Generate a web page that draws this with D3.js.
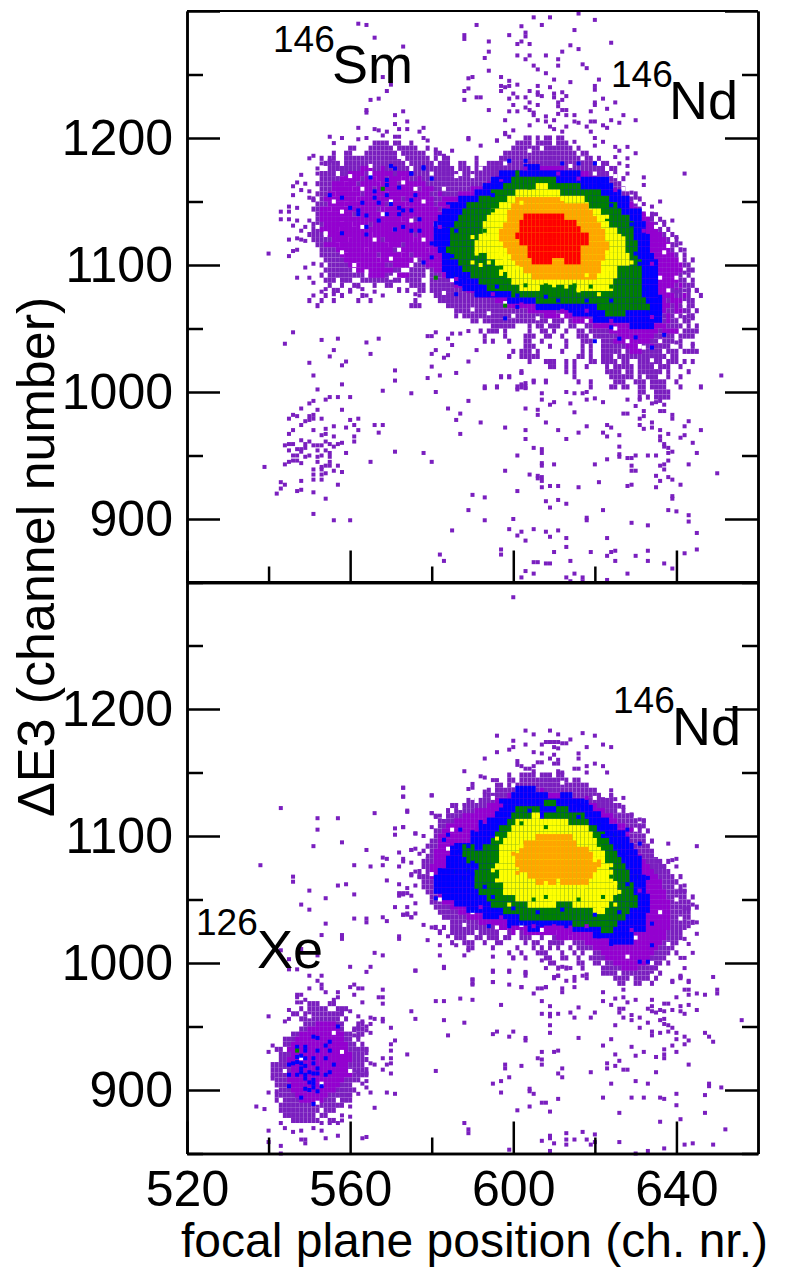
<!DOCTYPE html>
<html>
<head>
<meta charset="utf-8">
<script src="https://cdn.jsdelivr.net/npm/d3@7"></script>
<style>
  html, body { margin: 0; padding: 0; background: #fff; }
  svg { display: block; }
  text { font-family: "Liberation Sans", Arial, sans-serif; fill: #000; }
</style>
</head>
<body>
<div id="plot"></div>
<script>
// axis values
var xMajor = [520, 560, 600, 640];
var xMinor = [540, 580, 620];
var yMajor = [900, 1000, 1100, 1200, 1300];
var yMinor = [850, 950, 1050, 1150, 1250];
var yLabelled = [900, 1000, 1100, 1200];

// every row is [deltaE3, "channel spans"]
// upper panel, 146Sm + 146Nd
var topCount1 = [
  [1200, "603-604 606 608-609 611-612"],
  [1196, "566-569 571-572 575 601-604 606-609 611-613"],
  [1192, "560-561 565-570 572-576 579 600-606 608-614 616"],
  [1188, "556 559-560 564-571 573-578 581-582 598-615 617-618"],
  [1184, "553 555-556 559-572 574-579 581 583-584 591 597-619 621"],
  [1180, "554-557 559-573 575-580 582-584 587-588 591 594-620 622-623"],
  [1176, "555-574 576-585 587-589 591-622 624-625"],
  [1172, "553-556 558-564 566-586 588-623 625"],
  [1168, "553-557 559-565 567-572 574-625 627"],
  [1164, "552-558 560-566 568-626"],
  [1160, "553-560 562-627"],
  [1156, "552-555 557-568 570-628 630"],
  [1152, "551 553-561 563-629 631"],
  [1148, "552-558 560-573 575-630"],
  [1144, "551-554 556-567 569-631"],
  [1140, "552-561 563-632 634"],
  [1136, "552-557 559-572 574-634 636"],
  [1132, "551-560 562-635 637"],
  [1128, "551-556 558-569 571-636 638"],
  [1124, "550-553 555-564 566-637 639"],
  [1120, "551-559 561-575 577-638 640"],
  [1116, "552-556 558-568 570-640"],
  [1112, "553-563 565-578 580-639 641"],
  [1108, "553-558 560-572 574-640 642"],
  [1104, "554-566 568-575 577-640 642 644"],
  [1100, "553 555-561 563-574 576-640 642-643"],
  [1096, "554-560 562-572 575-641 643-644"],
  [1092, "553 555-563 565-570 573-578 580-641 643"],
  [1088, "554-556 558-560 563-572 574-577 580-642 644"],
  [1084, "555 558 561-562 566 569-570 575-578 580-640 642-644"],
  [1080, "556-557 560 572 574 577-578 580-641 643 645"],
  [1076, "554 558 563 581-641 643 646"],
  [1072, "550 553 556 562 565 576 582-640 642-644"],
  [1068, "552 575-577 584-641 643-644"],
  [1064, "586-640 642-643 645"],
  [1060, "586 588-610 612-641 643-644"],
  [1056, "590-591 593-608 610-612 614-620 622-640 642-643"],
  [1052, "595-600 604 606-607 609-611 614-615 618-641 643 645"],
  [1048, "592 594-596 598 604 607-608 610 613 616-617 619-640 642-645"],
  [1044, "593 598 603-605 608-609 612 616-618 620-639 641-644"],
  [1040, "593 595 599 603-604 607 613 617-619 622-639 641"],
  [1036, "603-605 609 613 617 619 622-630 632-638 641 644"],
  [1032, "600 602-604 606 612 617 619 622-626 628-636 638-640 642-645"],
  [1028, "599 602-606 616-617 619 622-624 626-637 639-640"],
  [1024, "604 608-610 613 615 619-620 622-625 627-628 631-636 638-640 642 644"],
  [1020, "609-610 613 615 618 623 625-629 631-634 636-638 641"],
  [1016, "602 613 615 623-626 628-629 631-636 638 643"],
  [1012, "597 599 615 624-629 631 633-635 638 641"],
  [1008, "605 608 616 619 625-627 630-632 634-637 640"],
  [1004, "593 596 601-603 619 624-625 627-628 631-632 634-637 641 646"],
  [1000, "631-632 635-638"],
  [996, "631 633 635-638"]
];
var topCount2 = [
  [1176, "563-565 568 571 605-612"],
  [1172, "560-563 566-570 572-575 600-618"],
  [1168, "558-562 564-568 570-574 577 596-620"],
  [1164, "556-561 563-571 573-578 594-622"],
  [1160, "556-565 567-576 578-580 590-623"],
  [1156, "555-562 564-579 582 587-625"],
  [1152, "554-572 574-580 583-628"],
  [1148, "555-568 570-580 582-629"],
  [1144, "553-566 568-581 583-630"],
  [1140, "553-560 562-582 584-632"],
  [1136, "553-575 577-633"],
  [1132, "554-564 566-580 582-634"],
  [1128, "553-570 572-635"],
  [1124, "555-575 577-636"],
  [1120, "556-567 569-637"],
  [1116, "554-572 574-638"],
  [1112, "557-570 573-638"],
  [1108, "558-566 568-574 576-639"],
  [1104, "559-575 578-640"],
  [1100, "560-568 571-575 579-641"],
  [1096, "562-570 581-641"],
  [1092, "565-568 572-574 583-640"],
  [1088, "585-640"],
  [1084, "586-639 641"],
  [1080, "589-638 640"],
  [1076, "592-639 642"],
  [1072, "596-637 639-641"],
  [1068, "599-638 640"],
  [1064, "604-610 612-637 640-641"],
  [1060, "608-618 620-636 638 640"],
  [1056, "615-636 638"],
  [1052, "620-637"],
  [1048, "624-635 637-640"],
  [1044, "626-634"],
  [1040, "625-633 636"],
  [1036, "628-630 634"],
  [1032, "629-631"]
];
var topCount3 = [
  [1177, "603-606"], [1172, "597-616"], [1167, "595-623"], [1162, "593-624"], [1157, "591-626"],
  [1152, "587-628"], [1147, "584-628"], [1142, "583-631"], [1137, "582-631"], [1132, "581-632"],
  [1127, "581-632"], [1122, "581-633"], [1117, "581-633"], [1112, "582-633"], [1107, "583-634"],
  [1102, "583-635"], [1097, "583-635"], [1092, "584-635"], [1087, "586-635"], [1082, "588-635"],
  [1077, "591-635"], [1072, "599-636"], [1067, "606-636"], [1062, "615-636"], [1057, "620-636"],
  [1052, "629-634"]
];
var topCount4 = [
  [1172, "601"], [1167, "600-610"], [1162, "598-616"], [1157, "595-621"], [1152, "592-623"],
  [1147, "589-625"], [1142, "588-626"], [1137, "587-628"], [1132, "586-629"], [1127, "585-629"],
  [1122, "585-629"], [1117, "585-630"], [1112, "584-630"], [1107, "585-630"], [1102, "587-631"],
  [1097, "588-631"], [1092, "590-631"], [1087, "592-631"], [1082, "594-631"], [1077, "600-631"],
  [1072, "606-632"], [1067, "621-633"], [1062, "623-627"]
];
var topCount5 = [
  [1162, "606-608"], [1157, "601-611"], [1152, "599-617"], [1147, "597-618"], [1142, "595-621"],
  [1137, "594-622"], [1132, "593-623"], [1127, "593-625"], [1122, "592-626"], [1117, "591-627"],
  [1112, "591-627"], [1107, "594-628"], [1102, "596-628"], [1097, "597-625"], [1092, "599-625"],
  [1087, "600-624"], [1082, "602-606 616-624"]
];
var topCount6 = [
  [1151, "601-612"], [1146, "600-618"], [1141, "599-619"], [1136, "599-620"], [1131, "598-621"],
  [1126, "597-622"], [1121, "597-622"], [1116, "598-623"], [1111, "599-623"], [1106, "600-622"],
  [1101, "601-621"], [1096, "603-621"], [1091, "605-620"]
];
var topCount7 = [
  [1138, "603-612"], [1133, "602-615"], [1128, "602-616"], [1123, "601-618"], [1118, "602-618"],
  [1113, "604-616"], [1108, "604-616"], [1103, "605-609 613-616"]
];

// lower panel, 146Nd + 126Xe
var lowCount1 = [
  [1148, "599 602-605 607-609 611-612"],
  [1144, "599-600 602-613 615-616"],
  [1140, "596-597 599-618"],
  [1136, "594 596-620"],
  [1132, "593-621 624"],
  [1128, "589-590 592-624"],
  [1124, "585-586 588-626"],
  [1120, "584 586-627"],
  [1116, "584-629"],
  [1112, "582-630 632"],
  [1108, "582-632"],
  [1104, "581-631 633"],
  [1100, "581-632"],
  [1096, "580-632 634"],
  [1092, "579-633"],
  [1088, "578 580-634"],
  [1084, "579-635"],
  [1080, "578-636 638"],
  [1076, "578-637"],
  [1072, "577 579-638"],
  [1068, "577-639 641"],
  [1064, "578-640"],
  [1060, "578-641"],
  [1056, "579-642"],
  [1052, "580-642 644"],
  [1048, "580-643"],
  [1044, "581-643 645"],
  [1040, "582-643"],
  [1036, "583-643"],
  [1032, "585-642 644"],
  [1028, "581 583 585-598 600-642"],
  [1024, "582 585-590 592-596 599-600 602-610 612-641"],
  [1020, "586-588 591-592 594-596 598-599 602-604 607 610-613 615-641"],
  [1016, "585 588-590 593 596-597 603 605-606 609-612 615-640"],
  [1012, "589-590 595 601 605 607 609 611 614 616-639"],
  [1008, "599 602 606-608 612 615 617 620-638 640"],
  [1004, "600 603 608-609 612-613 616 619-637"],
  [1000, "609-610 616-617 620-621 623-636 638"],
  [996, "611 613 617 622-635"],
  [992, "622-625 627-634 636"],
  [988, "625-628 630-633 635"],
  [984, "626-627 630-631 634"],
  [968, "550-552 555-556"],
  [964, "548 550-554 557-559"],
  [960, "546-547 549-558"],
  [956, "548-557 559"],
  [952, "549-558 562-563"],
  [948, "548-558 561-563"],
  [944, "546-560 562-563"],
  [940, "544-560 562"],
  [936, "544-561 563"],
  [932, "542-543 545-564"],
  [928, "543-563"],
  [924, "543-564"],
  [920, "541-563"],
  [916, "541-564"],
  [912, "541-564"],
  [908, "542-562"],
  [904, "542-560"],
  [900, "543-561"],
  [896, "542-560"],
  [892, "542 544-556 558-560"],
  [888, "543-558"],
  [884, "543-552 554-556"],
  [880, "544-551 553-554"],
  [876, "546-552 555-556"]
];
var lowCount2 = [
  [1136, "602-604 607"], [1132, "599-606 608-613"], [1128, "596-616"], [1124, "594-620"], [1120, "591-622"],
  [1116, "588-624"], [1112, "586-625"], [1108, "584-627"], [1104, "583-628"], [1100, "582-628"],
  [1096, "582-628"], [1092, "582-629"], [1088, "581-630"], [1084, "581-631"], [1080, "581-632"],
  [1076, "580-633"], [1072, "580-634"], [1068, "580-635"], [1064, "581-636"], [1060, "581-636"],
  [1056, "582-637"], [1052, "582-637"], [1048, "583-638"], [1044, "585-638"], [1040, "587-638"],
  [1036, "589-638"], [1032, "592-638"], [1028, "596-638"], [1024, "600 603-637"], [1020, "611-637"],
  [1016, "618-636"], [1012, "620-635"], [1008, "622-634"], [1004, "623-633"], [1000, "625-632"],
  [996, "627-630"],
  [952, "552-556"], [948, "550-557"], [944, "548-558"], [940, "547-558"], [936, "546-559"],
  [932, "545-559"], [928, "546-560"], [924, "545-560"], [920, "545-559"], [916, "546-559"],
  [912, "545-560"], [908, "545-558"], [904, "546-557"], [900, "546-556"], [896, "547-554"], [892, "548-553"]
];
var lowCount3 = [
  [1137, "601-605"], [1132, "600-608 612-614"], [1127, "597-618"], [1122, "597-619"], [1117, "596-621"],
  [1112, "594-623"], [1107, "592-625"], [1102, "590-627"], [1097, "590-628"], [1092, "585-629"],
  [1087, "585-630"], [1082, "584-631"], [1077, "584-631"], [1072, "582-631"], [1067, "581-632"],
  [1062, "581-632"], [1057, "581-632"], [1052, "583-633"], [1047, "586-633"], [1042, "589-633"],
  [1037, "593-632"], [1032, "599-632"], [1027, "604-606 615-632"], [1022, "620-629"], [1017, "624-629"]
];
var lowCount4 = [
  [1126, "608-610"], [1121, "601-606 611-613"], [1116, "600-606 608-617"], [1111, "599-618"], [1106, "597-620"],
  [1101, "596-622"], [1096, "595-623"], [1091, "588-590 593-624"], [1086, "588-625"], [1081, "589-626"],
  [1076, "592-627"], [1071, "591-628"], [1066, "591-628"], [1061, "591-629"], [1056, "592-629"],
  [1051, "594-630"], [1046, "595-630"], [1041, "598-628"], [1036, "602-627"], [1031, "615-625"],
  [1026, "622-624"]
];
var lowCount5 = [
  [1116, "605-606"], [1111, "601-613"], [1106, "600-618"], [1101, "599-619"], [1096, "598-620"],
  [1091, "597-621"], [1086, "597-622"], [1081, "597-622"], [1076, "596-623"], [1071, "597-624"],
  [1066, "597-624"], [1061, "598-625"], [1056, "598-625"], [1051, "601-624"], [1046, "604-610 615-623"],
  [1041, "620-622"]
];
var lowCount6 = [
  [1099, "606-614"], [1094, "603-615"], [1089, "602-618"], [1084, "601-619"], [1079, "601-621"],
  [1074, "602-620"], [1069, "604-619"], [1064, "606-610 612-618"]
];

// empty channels inside the purple area
var topEmpty = [[556,1150],[560,1170],[563,1130],[566,1120],[570,1105],[573,1165],[575,1135],[578,1120],[552,1130],[558,1110],[564,1095],[570,1090],[585,1088],[590,1065],[600,1060],[612,1060],[628,1040],[634,1025],[640,1060],[636,1090],[638,1115],[590,1170],[598,1180],[614,1178],[620,1172],[578,1150],[581,1132],[565,1178],[572,1185],[568,1140],[561,1100],[575,1100],[598,1070],[625,1050],[632,1035],[639,1120],[637,1110],[640,1090],[638,1080],[642,1070],[636,1040],[635,1130],[633,1142],[630,1150],[627,1160],[625,1170],[617,1184],[604,1190],[592,1176],[586,1170],[583,1160],[580,1172],[576,1160],[570,1150],[563,1160],[558,1142],[554,1125],[572,1112],[579,1095],[583,1078],[594,1062],[606,1058],[618,1056]];
var lowEmpty = [[580,1070],[585,1105],[590,1040],[595,1130],[602,1030],[610,1032],[640,1060],[636,1040],[638,1090],[630,1020],[634,1000],[578,1085],[582,1050],[548,925],[553,905],[556,945],[544,915],[558,930],[550,958],[552,890],[560,915],[584,1090],[583,1115],[587,1122],[590,1130],[600,1140],[612,1142],[620,1130],[626,1120],[630,1105],[635,1085],[640,1050],[641,1035],[638,1015],[634,990],[628,1005],[588,1030],[596,1028],[607,1026]];

// single blue and green cells outside the main rings
var topBlueCells = [[570,1178],[578,1176],[555,1155],[558,1153],[560,1145],[562,1143],[563,1149],[565,1169],[566,1158],[566,1153],[567,1149],[569,1167],[569,1163],[569,1155],[570,1148],[571,1176],[572,1161],[572,1145],[575,1172],[575,1151],[576,1155],[564,1139],[564,1130],[567,1135],[569,1140],[572,1140],[571,1128],[573,1130],[558,1125],[562,1140],[564,1124],[612,1180],[620,1040],[626,1042],[637,1045],
  [578,1177],[575,1172],[580,1168],[575,1143],[577,1136],[577,1127],[580,1117],[575,1127],[573,1143],[578,1102],[580,1106],[599,1182],[603,1182],[616,1180],[620,1180],[636,1075],[598,1058],[614,1064],[620,1059],[624,1051],[630,1043],[634,1035],[606,1067],[601,1067],[591,1077],[587,1085],[586,1077]];
var topGreenCells = [[568,1160],[584,1129],[583,1117],[584,1106],[581,1090],[586,1093],[598,1068],[600,1077],[604,1076],[606,1172],[617,1161],[622,1149],[626,1144],[629,1129],[631,1093],[632,1081],[633,1063],[623,1058],[616,1068],[607,1071]];
var lowBlueCells = [[557,950],[551,942],[552,941],[555,938],[547,934],[549,934],[554,935],[549,931],[552,931],[555,931],[548,927],[547,926],[549,925],[551,925],[554,925],[546,921],[547,922],[548,921],[545,920],[551,921],[556,920],[549,919],[552,917],[548,917],[550,914],[545,912],[547,912],[548,914],[549,912],[551,913],[552,913],[554,912],[555,914],[549,909],[551,908],[550,906],[551,905],[545,903],[549,901],[550,900],[551,902],[553,903],[552,899],[548,894],[551,889],[634,1014],[631,1001],[633,1001],
  [582,1073],[581,1051],[584,1101],[587,1105],[583,1097],[592,1111],[594,1029],[599,1029],[602,1034],[607,1030],[613,1029],[615,1127],[616,1124],[622,1107],[624,1107],[628,1105],[631,1094],[633,1067],[634,1031],[624,1015],[627,1023],[621,1021]];
var lowGreenCells = [[547,931],[586,1072],[588,1067],[589,1073],[590,1077],[592,1054],[591,1060],[594,1050],[599,1046],[598,1042],[602,1034],[605,1033],[610,1124],[621,1109],[625,1101],[626,1092],[630,1068],[629,1047],[624,1033],[622,1029]];

// notches and stray cells along the ring edges
var topEdgePurple = [[603,1176],[611,1172],[616,1168],[597,1166],[584,1146],[582,1130],[582,1107],[586,1089],[595,1077],[602,1069],[612,1064],[618,1064],[624,1056],[634,1059],[634,1101],[632,1127],[629,1147],[625,1159]];
var topEdgeBlue = [[595,1155],[597,1164],[586,1127],[585,1107],[588,1090],[592,1083],[596,1083],[601,1076],[608,1075],[611,1072],[618,1072],[624,1072],[621,1163],[624,1147],[629,1132],[630,1109],[631,1101]];
var topEdgeGreen = [[595,1143],[593,1127],[597,1098],[599,1088],[603,1084],[608,1084],[612,1080],[615,1084],[619,1083],[624,1083],[627,1096],[622,1143],[618,1156],[612,1161],[604,1161]];
var topEdgeYellow = [[590,1122],[593,1121],[591,1109],[590,1102],[592,1100],[594,1102],[597,1093],[623,1138],[627,1121],[629,1102],[616,1080],[621,1077],[606,1082],[610,1084],[613,1083],[598,1105],[597,1109],[601,1098],[612,1152],[602,1149],[623,1110],[624,1097],[618,1092]];
var lowEdgePurple = [[585,1094],[592,1044],[597,1036],[605,1029],[610,1029],[618,1029],[629,1026],[631,1057],[629,1105],[618,1130],[597,1124],[591,1105]];
var lowEdgeBlue = [[589,1092],[590,1079],[587,1088],[590,1070],[593,1060],[595,1052],[600,1043],[606,1040],[612,1042],[620,1038],[626,1040],[628,1062],[627,1085],[622,1100],[616,1115],[604,1120]];
var lowEdgeGreen = [[599,1105],[602,1110],[608,1107],[620,1100],[621,1093],[624,1068],[605,1050],[608,1052],[616,1050],[622,1052]];
var lowEdgeYellow = [[596,1098],[595,1073],[596,1065],[598,1056],[599,1046],[624,1077],[625,1063],[626,1056],[625,1046],[621,1043],[610,1047],[606,1116],[608,1063],[617,1060],[620,1081],[602,1092]];
var lowEdgeOrange = [[600,1086],[601,1077],[601,1071],[619,1086],[621,1077],[606,1100]];

// isolated counts
var topSingles = [[546,1047],[544,1038],[553,1041],[557,1042],[556,1033],[555,1028],[550,1023],[559,1024],[558,1021],[551,1013],[558,1006],[552,1002],[554,994],[555,996],[557,996],[560,996],[551,993],[550,991],[548,987],[552,986],[558,986],[546,982],[547,981],[551,982],[550,981],[545,979],[553,979],[551,979],[550,978],[549,977],[560,978],[562,979],[561,974],[548,974],[554,971],[556,973],[559,972],[546,970],[545,967],[551,970],[554,967],[553,966],[556,965],[562,970],[561,965],[561,961],[566,974],[568,974],[567,968],[548,962],[550,961],[554,961],[545,959],[546,959],[544,958],[549,959],[551,958],[552,958],[553,958],[555,959],[556,957],[557,959],[558,960],[547,955],[548,955],[549,956],[545,954],[548,953],[552,954],[554,954],[555,952],[559,952],[546,950],[547,950],[549,949],[550,950],[552,949],[553,950],[555,949],[545,945],[546,946],[547,946],[552,945],[555,945],[544,943],[548,944],[539,941],[551,939],[553,941],[554,942],[555,942],[557,942],[556,938],[553,939],[551,935],[553,935],[554,936],[558,937],[551,931],[553,931],[548,930],[543,929],[544,927],[557,927],[543,924],[542,920],[547,922],[548,923],[551,921],[554,916],[551,904],[556,899],[560,899],
  [565,1030],[564,1039],[567,1042],[571,1017],[571,1009],[568,1001],[575,999],[565,945],[571,953],[578,952],[580,945],[581,1000],[579,1011],[580,1020],[582,1013],[586,1015],[589,1024],[584,1029],[583,1027],[581,1033],[580,1030],[585,1037],[591,1033],[579,1044],[580,1044],[581,1047],[584,1042],[585,1046],[587,1046],[589,1048],[589,993],[584,987],[587,983],[586,978],[587,967],[590,919],[589,907],[585,891],[582,872],[583,867],
  [599,1028],[597,1012],[599,1012],[602,1015],[602,1006],[603,1007],[603,1003],[601,1002],[596,1004],[593,1003],[605,1009],[608,1009],[607,999],[607,994],[610,992],[609,990],[613,1000],[615,999],[617,999],[618,1000],[618,994],[620,995],[614,991],[622,992],[615,984],[606,986],[606,982],[603,987],[628,994],[631,994],[630,989],[634,991],[635,992],[636,993],[637,990],[636,985],[637,985],[632,985],[627,983],[628,983],[632,981],[631,979],[634,976],[634,972],[639,982],[639,979],[643,977],[642,973],[646,970],[592,976],[598,972],[603,970],[608,976],[611,970],[616,968],[618,973],[623,974],[624,972],[631,974],[632,971],[622,968],[623,965],[626,966],[636,970],[638,967],[641,964],[642,966],[636,965],[636,962],[603,963],[613,963],[644,960],[637,959],[637,957],[638,956],[626,957],[605,956],[607,955],[607,952],[601,950],[639,953],[645,952],[626,951],[626,949],[628,948],[629,948],[630,950],[633,950],[635,950],[638,952],[623,947],[638,946],[607,944],[607,942],[610,943],[620,943],[637,943],[636,942],[643,943],[629,942],[598,938],[629,938],[630,938],[637,939],[650,936],[604,935],[606,934],[606,932],[607,933],[607,930],[635,934],[638,933],[639,931],[636,930],[621,929],[629,927],[628,926],[641,927],[607,925],[609,926],[611,926],[616,925],[635,925],[601,922],[593,917],[639,918],[639,916],[608,914],[611,915],[613,912],[609,909],[622,907],[638,907],[640,906],[643,903],[618,901],[618,899],[600,900],[593,899],[629,897],[633,895],[643,898],[599,892],[602,890],[605,892],[608,890],[611,891],[601,887],[609,886],[645,889],[603,883],[613,885],[623,885],[613,878],[597,876],[597,872],[610,874],[619,874],[624,874],[625,875],[623,871],[633,875],[630,871],[642,873],[645,876],[605,866],[606,866],[608,865],[609,865],[614,867],[625,867],[633,867],[637,865],[639,861],[603,859],[602,854],[605,857],[613,854],[615,857],[614,851],[617,854],[617,851],[623,852],[628,857],[651,1013],
  [562,1290],[564,1289],[566,1279],[573,1272],[568,1248],[570,1242],[569,1237],[567,1231],[565,1230],[564,1222],[564,1220],[573,1221],[571,1218],[574,1213],[571,1211],[572,1207],[574,1207],[562,1208],[566,1207],[567,1206],[569,1205],[578,1208],[577,1205],[555,1201],[558,1200],[562,1199],[556,1196],[564,1200],[571,1201],[572,1201],[568,1202],[578,1200],[579,1198],[581,1191],[583,1186],[585,1190],[551,1186],[550,1184],[553,1180],[555,1182],[552,1176],[552,1172],[548,1171],[547,1165],[549,1164],[546,1162],[548,1159],[550,1158],[550,1153],[546,1155],[551,1151],[545,1146],[547,1145],[545,1142],[543,1142],[543,1136],[545,1136],[547,1135],[546,1131],[548,1127],[549,1130],[550,1135],[545,1120],[547,1121],[548,1120],[549,1119],[546,1111],[547,1112],[540,1109],[545,1107],[549,1098],[551,1101],[547,1090],[550,1090],[551,1086],[554,1081],[553,1079],[556,1077],[551,1076],[560,1079],[562,1083],[563,1081],[566,1079],[564,1076],[568,1076],[572,1081],[576,1077],[577,1076],
  [591,1289],[588,1281],[588,1278],[589,1247],[590,1248],[588,1237],[589,1239],[588,1230],[591,1232],[589,1200],
  [605,1295],[609,1295],[616,1298],[620,1293],[602,1288],[607,1289],[615,1285],[599,1281],[603,1283],[603,1280],[594,1276],[601,1274],[602,1276],[604,1274],[614,1273],[624,1275],[616,1270],[594,1268],[593,1263],[601,1265],[604,1265],[603,1262],[608,1265],[612,1268],[611,1262],[611,1257],[605,1257],[606,1254],[617,1258],[618,1255],[594,1253],[597,1248],[608,1251],[610,1246],[614,1244],[621,1246],[599,1245],[597,1241],[599,1241],[598,1240],[601,1242],[597,1237],[606,1241],[609,1240],[620,1241],[620,1238],[604,1237],[606,1236],[606,1234],[607,1233],[612,1236],[610,1235],[610,1232],[613,1233],[600,1235],[601,1232],[599,1231],[603,1232],[592,1232],[612,1230],[611,1228],[611,1225],[604,1228],[600,1226],[606,1226],[622,1231],[625,1228],[620,1228],[620,1226],[623,1223],[619,1221],[627,1218],[594,1222],[599,1221],[601,1221],[603,1224],[604,1222],[605,1220],[605,1218],[611,1219],[612,1222],[613,1222],[613,1218],[615,1218],[608,1217],[598,1214],[606,1214],[610,1214],[608,1213],[615,1213],[616,1212],[619,1213],[620,1213],[624,1214],[626,1212],[630,1214],[622,1210],[623,1208],[618,1209],[619,1205],[613,1209],[604,1210],[609,1209],[610,1207],[600,1206],[598,1204],[599,1201],[620,1200],[612,1205],[615,1197],[596,1198],
  [589,1199],[592,1194],[596,1198],[598,1203],[622,1197],[620,1194],[625,1193],[628,1193],[626,1190],[630,1188],[628,1184],[625,1185],[628,1178],[626,1180],[628,1172],[632,1169],[632,1163],[642,1172],[630,1153],[629,1157],[636,1150],[634,1146],[632,1148],[635,1140],[637,1134],[639,1135],[634,1137],[641,1117],[642,1112],[640,1122],[643,1096],[642,1094],[643,1080],[645,1080],[642,1080],[640,1079],[644,1058],[644,1038],[642,1059],[640,1039]];
var lowSingles = [[600,1288],[596,1179],[603,1183],[605,1180],[609,1183],[617,1181],[620,1179],[611,1180],[611,1174],[610,1174],[612,1173],[613,1173],[614,1176],[609,1174],[600,1175],[600,1170],[603,1172],[607,1172],[608,1174],[610,1170],[611,1169],[618,1170],[622,1172],[624,1170],[596,1166],[599,1168],[605,1166],[607,1165],[616,1165],[616,1161],[610,1164],[609,1161],[611,1160],[593,1161],[601,1159],[601,1156],[606,1158],[605,1155],[610,1157],[611,1157],[607,1158],[602,1155],[603,1153],[604,1153],[605,1151],[615,1153],[616,1153],[618,1155],[620,1157],[622,1155],[623,1150],[618,1150],[611,1151],[612,1150],[588,1151],[592,1147],[593,1146],[595,1144],[596,1144],[590,1141],[590,1138],[593,1135],[589,1137],[624,1136],[624,1132],[621,1131],[622,1129],[625,1129],[627,1130],[580,1132],[573,1138],[573,1131],[574,1120],[580,1118],[581,1116],[582,1116],[573,1107],[576,1102],[578,1100],[575,1089],[576,1090],[577,1086],[573,1082],[575,1079],[576,1072],[575,1069],[577,1068],[576,1061],[573,1055],[574,1055],[575,1053],[572,1055],[576,1047],[573,1038],[574,1038],[575,1036],[576,1039],[578,1030],[580,1028],[582,1025],[572,1021],[579,1018],[582,1014],[584,1021],[586,1014],[589,1010],[582,1006],[588,1006],[595,1005],[600,1004],[576,994],[583,997],[590,987],[590,984],[595,994],[599,994],[595,985],[602,981],[603,993],[608,996],[607,1002],[610,988],[612,997],[614,996],[615,989],[611,990],[606,980],[608,981],
  [631,1113],[632,1112],[629,1117],[627,1123],[631,1107],[638,1094],[645,1092],[640,1082],[639,1081],[640,1076],[637,1076],[636,1080],[642,1061],[641,1057],[642,1057],[644,1046],[643,1043],[642,1043],[645,1032],[643,1032],[643,1029],[645,1023],[642,1019],[643,1015],[644,1008],[642,1004],[641,1004],[642,996],[639,985],[641,989],[643,985],
  [545,995],[547,995],[550,990],[553,990],[552,986],[553,983],[553,980],[550,980],[554,977],[557,977],[547,975],[548,975],[557,973],[547,973],[549,971],[547,969],[548,969],[556,971],[556,968],[545,963],[560,997],[565,997],[564,993],[560,981],[561,983],[562,980],[563,980],[561,975],[563,969],[568,979],[567,973],[568,973],[568,968],[575,962],[576,956],[576,994],[583,996],[590,987],[590,983],[581,970],[583,970],[587,972],[590,971],[583,955],[588,953],[584,943],[581,915],[574,928],[560,962],[558,962],[562,958],[563,954],[565,957],[566,956],[568,956],[568,954],[565,952],[564,950],[564,947],[562,949],[561,947],[561,943],[570,949],[565,945],[571,939],[570,936],[562,942],[562,932],[564,932],[564,929],[570,931],[568,925],[570,925],[570,921],[569,920],[565,921],[566,920],[568,916],[570,913],[562,914],[563,912],[564,913],[564,907],[563,905],[564,902],[565,898],[569,898],[571,897],[562,897],[560,896],[566,886],[560,887],[560,879],[558,880],[558,876],[557,874],[555,874],[553,874],[553,868],[551,870],[548,868],[546,867],[544,870],[543,874],[540,868],[557,864],[554,862],[548,861],[549,861],[549,858],[540,859],[543,856],[543,850],[563,862],[564,863],[537,887],[539,885],[542,899],[540,898],[541,909],[540,930],[540,958],[541,935],[544,954],[545,956],[588,874],[589,869],[589,866],
  [595,993],[599,993],[603,992],[603,990],[595,985],[599,983],[602,981],[605,976],[607,980],[608,981],[610,989],[611,990],[613,986],[615,986],[617,990],[618,991],[618,988],[612,980],[612,977],[615,981],[607,970],[609,966],[597,967],[616,965],[607,960],[609,960],[609,958],[611,960],[614,961],[615,957],[620,961],[619,957],[609,951],[609,945],[595,944],[596,946],[600,946],[599,942],[603,941],[603,939],[616,941],[607,930],[610,930],[611,931],[606,925],[607,924],[607,920],[598,920],[598,917],[602,919],[612,917],[611,913],[612,910],[599,910],[597,907],[595,905],[597,898],[604,901],[604,899],[605,897],[611,893],[607,890],[608,890],[601,884],[604,887],[609,883],[607,860],[609,864],[609,862],[610,858],[613,866],[613,861],[613,857],[615,861],[617,867],[618,861],[620,865],[619,857],[620,859],[609,852],[599,853],
  [622,977],[622,970],[625,972],[624,967],[627,979],[627,973],[628,969],[630,971],[626,964],[627,964],[626,961],[627,957],[629,959],[629,955],[631,957],[633,953],[634,971],[634,966],[633,964],[634,962],[635,961],[636,963],[636,955],[637,956],[637,952],[638,951],[639,949],[638,946],[636,945],[634,946],[634,943],[631,949],[625,951],[640,945],[640,940],[642,942],[643,939],[642,936],[639,935],[640,930],[637,932],[637,928],[637,925],[635,926],[632,930],[629,934],[630,927],[622,935],[624,940],[625,928],[626,923],[623,921],[623,917],[625,919],[627,916],[628,916],[619,914],[635,914],[643,920],[647,945],[648,942],[649,938],[656,955],[637,962],[641,962],[642,960],[639,963],[643,967],[645,963],[641,966],[637,968],[638,968],[640,973],[643,975],[645,976],[647,975],[650,979],[650,976],[643,979],[642,979],[649,989],[643,986],[639,986],[641,990],[641,988],
  [624,905],[630,907],[633,905],[648,905],[648,903],[651,902],[622,894],[629,894],[632,894],[636,894],[637,893],[640,897],[647,896],[640,888],[626,882],[647,882],[641,877],[636,875],[652,869],[626,859],[642,857],[644,858],[649,857],[637,854],[633,852],[630,850],
  [543,1122],[552,1114],[557,1114],[552,1105],[551,1092],[558,1095],[538,1077],[546,1068],[546,1064],[550,1057],[554,1051],[548,1046],[550,1042],[561,1077],[565,1076],[564,1089],[557,1061],[559,1062],[561,1054],[561,1035],[564,1035],[564,1032],[554,1031],[553,1022],[558,1022],[558,1019],[543,1010],[548,1011],[545,1003],[552,1006],[566,1008],[568,1006],[572,1019],[569,1033],[568,1036],[571,1044],[573,1038],[574,1039],[575,1036],[574,1044],[573,1054],[572,1053],[572,1062],[569,1065],[574,1059],[575,1070],[572,1076],[573,1080],[568,1077],[568,1083],[569,1082],[572,1087],[575,1089],[571,1101],[571,1106],[573,1107],[576,1102],[573,1138],[573,1131],[574,1119],[580,1132],[580,1118],[581,1115],[566,1118],[580,1107]];

var colors = { count1: "#7a1fbf", count2: "#9400d0", count3: "#0000ff", count4: "#008000", count5: "#ffff00", count6: "#ffa500", count7: "#ff0000" };

var width = 786, height = 1269;
var left = 187, right = 758;
var panelHeight = 571.5;
var topY0 = 11, lowY0 = 582;

var x = d3.scaleLinear().domain([520, 660]).range([left, right]);
var yTop = d3.scaleLinear().domain([850, 1300]).range([topY0 + panelHeight, topY0]);
var yLow = d3.scaleLinear().domain([850, 1300]).range([lowY0 + panelHeight, lowY0]);

var svg = d3.select("#plot").append("svg")
    .attr("width", width)
    .attr("height", height);

// "566-569 575" -> [566,567,568,569,575]
function channels(s) {
  return s.split(" ").flatMap(function(part) {
    var ends = part.split("-").map(Number);
    return d3.range(ends[0], (ends.length > 1 ? ends[1] : ends[0]) + 1);
  });
}

function drawRows(g, rows, y, color, step) {
  var cells = rows.flatMap(function(r) {
    return channels(r[1]).map(function(c) { return [c, r[0]]; });
  });
  var h = y(0) - y(step);
  g.append("g").selectAll("rect")
    .data(cells)
    .join("rect")
      .attr("x", d => x(d[0]) - 2)
      .attr("y", d => y(d[1]) - h / 2)
      .attr("width", 4)
      .attr("height", h)
      .attr("fill", color);
}

function drawPoints(g, pts, y, color) {
  g.append("g").selectAll("rect")
    .data(pts)
    .join("rect")
      .attr("x", d => x(d[0]) - 2)
      .attr("y", d => y(d[1]) - 2)
      .attr("width", 4)
      .attr("height", 4)
      .attr("fill", color);
}

function drawPanel(y, d) {
  var g = svg.append("g");
  drawRows(g, d.rows[0], y, colors.count1, 4);
  drawRows(g, d.rows[1], y, colors.count2, 4);
  drawPoints(g, d.empty, y, "#fff");
  drawPoints(g, d.singles, y, colors.count1);
  drawPoints(g, d.blue, y, colors.count3);
  drawPoints(g, d.green, y, colors.count4);
  d.rows.slice(2).forEach(function(rows, i) {
    drawRows(g, rows, y, colors["count" + (i + 3)], 5);
  });
  // ragged edges go on last
  drawPoints(g, d.edges[0], y, colors.count2);
  drawPoints(g, d.edges[1], y, colors.count3);
  drawPoints(g, d.edges[2], y, colors.count4);
  drawPoints(g, d.edges[3], y, colors.count5);
  drawPoints(g, d.edges[4], y, colors.count6);
}

function drawAxes(y, y0, showX) {
  var g = svg.append("g");
  var fmt = d => yLabelled.includes(d) ? d : "";

  g.append("g").attr("class", "axis")
      .attr("transform", `translate(${left},0)`)
      .call(d3.axisLeft(y).tickValues(yMajor).tickSizeInner(-33).tickSizeOuter(0).tickPadding(14).tickFormat(fmt));
  g.append("g").attr("class", "axis")
      .attr("transform", `translate(${left},0)`)
      .call(d3.axisLeft(y).tickValues(yMinor).tickSizeInner(-16).tickSizeOuter(0).tickFormat(""));
  g.append("g").attr("class", "axis")
      .attr("transform", `translate(${right},0)`)
      .call(d3.axisRight(y).tickValues(yMajor).tickSizeInner(-33).tickSizeOuter(0).tickFormat(""));
  g.append("g").attr("class", "axis")
      .attr("transform", `translate(${right},0)`)
      .call(d3.axisRight(y).tickValues(yMinor).tickSizeInner(-16).tickSizeOuter(0).tickFormat(""));

  g.append("g").attr("class", "axis")
      .attr("transform", `translate(0,${y0 + panelHeight})`)
      .call(d3.axisBottom(x).tickValues(xMajor).tickSizeInner(-32).tickSizeOuter(0).tickPadding(17).tickFormat(showX ? d3.format("d") : ""));
  g.append("g").attr("class", "axis")
      .attr("transform", `translate(0,${y0 + panelHeight})`)
      .call(d3.axisBottom(x).tickValues(xMinor).tickSizeInner(-16).tickSizeOuter(0).tickFormat(""));
  // top edge has no ticks
  g.append("line")
      .attr("x1", left).attr("x2", right)
      .attr("y1", y0).attr("y2", y0)
      .attr("stroke", "#000").attr("stroke-width", 2);

  g.selectAll(".axis text").style("font-size", "50px").style("font-family", "Liberation Sans");
  g.selectAll(".axis line, .axis path").attr("stroke", "#000").attr("stroke-width", 2.5);
}

drawPanel(yTop, {
  rows: [topCount1, topCount2, topCount3, topCount4, topCount5, topCount6, topCount7],
  empty: topEmpty, singles: topSingles, blue: topBlueCells, green: topGreenCells,
  edges: [topEdgePurple, topEdgeBlue, topEdgeGreen, topEdgeYellow, []]
});
drawPanel(yLow, {
  rows: [lowCount1, lowCount2, lowCount3, lowCount4, lowCount5, lowCount6],
  empty: lowEmpty, singles: lowSingles, blue: lowBlueCells, green: lowGreenCells,
  edges: [lowEdgePurple, lowEdgeBlue, lowEdgeGreen, lowEdgeYellow, lowEdgeOrange]
});
drawAxes(yTop, topY0, false);
drawAxes(yLow, lowY0, true);

// isotope labels
function isotope(mass, name, mx, my, nx, ny) {
  svg.append("text").attr("x", mx).attr("y", my).style("font-size", "37px").text(mass);
  svg.append("text").attr("x", nx).attr("y", ny).style("font-size", "54px").text(name);
}
isotope("146", "Sm", 273, 52, 332, 83);
isotope("146", "Nd", 611, 87, 669, 119);
isotope("146", "Nd", 613, 713, 672, 745);
isotope("126", "Xe", 196, 935, 257, 968);

svg.append("text")
    .attr("x", 181).attr("y", 1257)
    .style("font-size", "48px")
    .text("focal plane position (ch. nr.)");

svg.append("text")
    .attr("transform", "translate(54,817) rotate(-90)")
    .style("font-size", "52px")
    .text("ΔE3 (channel number)");
</script>
</body>
</html>
